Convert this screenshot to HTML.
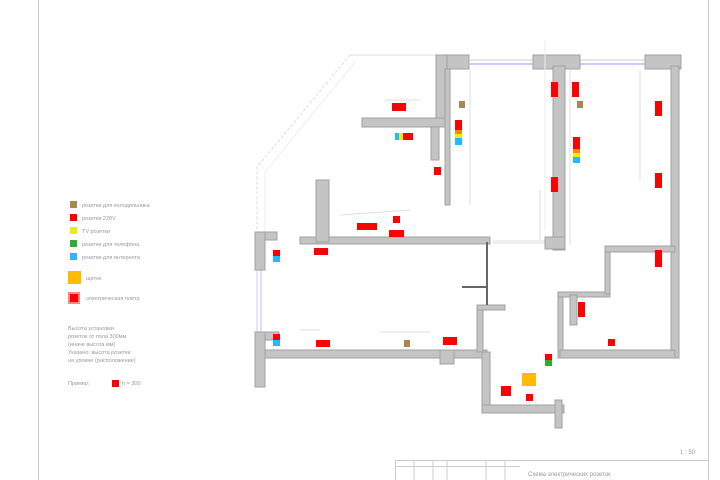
<!DOCTYPE html>
<html><head><meta charset="utf-8"><style>
body{margin:0;background:#fff}
svg{display:block}
text{font-family:"Liberation Sans","DejaVu Sans",sans-serif;fill:#999}
</style></head><body>
<svg width="720" height="480" viewBox="0 0 720 480">
<line x1="38.5" y1="0" x2="38.5" y2="480" stroke="#ccc"/>
<line x1="708.5" y1="0" x2="708.5" y2="480" stroke="#ccc"/>
<g stroke="#ccc" fill="none">
<rect x="395.5" y="460.5" width="313" height="20"/>
<line x1="395" y1="466.5" x2="520" y2="466.5"/>
<line x1="414" y1="460" x2="414" y2="480"/><line x1="433" y1="460" x2="433" y2="480"/>
<line x1="447" y1="460" x2="447" y2="480"/><line x1="486" y1="460" x2="486" y2="480"/>
<line x1="505" y1="460" x2="505" y2="480"/>
</g>
<text x="528" y="476" font-size="6">Схема электрических розеток</text>
<text x="680" y="454" font-size="6">1 : 50</text>

<polyline points="350,55 436,55" stroke="#ddd" fill="none"/>
<polyline points="350,55 257,167 257,232" stroke="#ddd" fill="none" stroke-dasharray="3,2"/>
<polyline points="355,62 265,172 265,232" stroke="#eee" fill="none"/>
<g stroke="#ccd" stroke-width="1">
<line x1="470" y1="60" x2="533" y2="60"/><line x1="470" y1="64" x2="533" y2="64" stroke="#99f"/>
<line x1="580" y1="60" x2="645" y2="60"/><line x1="580" y1="64" x2="645" y2="64" stroke="#99f"/>
<line x1="257" y1="270" x2="257" y2="332"/><line x1="261" y1="270" x2="261" y2="332" stroke="#bbf"/>
<line x1="493" y1="242" x2="545" y2="242" stroke="#eee" stroke-width="4"/>
</g>
<g fill="#c4c4c4" stroke="#a0a0a0" stroke-width="1">
<rect x="436" y="55" width="33" height="14"/>
<rect x="436" y="55" width="11" height="72"/>
<rect x="362" y="118" width="85" height="9"/>
<rect x="431" y="127" width="8" height="33"/>
<rect x="445" y="69" width="5" height="136"/>
<rect x="533" y="55" width="47" height="14"/>
<rect x="553" y="66" width="12" height="184"/>
<rect x="645" y="55" width="36" height="14"/>
<rect x="671" y="66" width="8" height="292"/>
<rect x="300" y="237" width="190" height="7"/>
<rect x="316" y="180" width="13" height="62"/>
<rect x="545" y="237" width="20" height="12"/>
<rect x="255" y="232" width="22" height="8"/>
<rect x="255" y="232" width="10" height="38"/>
<rect x="255" y="332" width="24" height="8"/>
<rect x="255" y="332" width="10" height="55"/>
<rect x="265" y="350" width="222" height="8"/>
<rect x="440" y="350" width="14" height="14"/>
<rect x="482" y="352" width="8" height="60"/>
<rect x="482" y="405" width="82" height="8"/>
<rect x="555" y="400" width="7" height="28"/>
<rect x="477" y="305" width="6" height="47"/>
<rect x="477" y="305" width="28" height="5"/>
<rect x="558" y="292" width="5" height="66"/>
<rect x="558" y="292" width="52" height="5"/>
<rect x="605" y="248" width="5" height="46"/>
<rect x="605" y="246" width="70" height="6"/>
<rect x="560" y="350" width="115" height="8"/>
<rect x="570" y="295" width="7" height="30"/>
</g>
<line x1="487" y1="242" x2="487" y2="305" stroke="#666" stroke-width="2"/>
<line x1="462" y1="287" x2="487" y2="287" stroke="#666" stroke-width="2"/>
<line x1="545" y1="230" x2="545" y2="40" stroke="#eee"/>
<g stroke="#ddd" fill="none">
<line x1="470" y1="70" x2="470" y2="205"/><line x1="385" y1="100" x2="420" y2="100"/>
<line x1="540" y1="190" x2="540" y2="240"/><line x1="640" y1="70" x2="640" y2="180"/>
<line x1="570" y1="70" x2="570" y2="245"/><line x1="300" y1="330" x2="320" y2="330"/>
<line x1="380" y1="332" x2="430" y2="332"/><line x1="340" y1="215" x2="410" y2="210"/>
</g>
<g fill="#f00">
<rect x="392" y="103" width="14" height="8"/>
<rect x="403" y="133" width="10" height="7"/>
<rect x="455" y="120" width="7" height="10"/>
<rect x="434" y="167" width="7" height="8"/>
<rect x="393" y="216" width="7" height="7"/>
<rect x="357" y="223" width="20" height="7"/>
<rect x="389" y="230" width="15" height="7"/>
<rect x="314" y="248" width="14" height="7"/>
<rect x="273" y="250" width="7" height="6"/>
<rect x="316" y="340" width="14" height="7"/>
<rect x="273" y="334" width="7" height="6"/>
<rect x="443" y="337" width="14" height="8"/>
<rect x="551" y="82" width="7" height="15"/>
<rect x="572" y="82" width="7" height="15"/>
<rect x="573" y="137" width="7" height="12"/>
<rect x="551" y="177" width="7" height="15"/>
<rect x="655" y="101" width="7" height="15"/>
<rect x="655" y="173" width="7" height="15"/>
<rect x="655" y="250" width="7" height="17"/>
<rect x="578" y="302" width="7" height="15"/>
<rect x="608" y="339" width="7" height="7"/>
<rect x="545" y="354" width="7" height="6"/>
<rect x="501" y="386" width="10" height="10"/>
<rect x="526" y="394" width="7" height="7"/>
</g>
<rect x="395" y="133" width="4" height="7" fill="#2bf"/>
<rect x="399" y="133" width="4" height="7" fill="#ee0"/>
<rect x="455" y="130" width="7" height="4" fill="#f80"/>
<rect x="455" y="134" width="7" height="4" fill="#ee0"/>
<rect x="455" y="138" width="7" height="7" fill="#2bf"/>
<rect x="573" y="149" width="7" height="4" fill="#f80"/>
<rect x="573" y="153" width="7" height="4" fill="#ee0"/>
<rect x="573" y="157" width="7" height="6" fill="#2bf"/>
<rect x="273" y="256" width="7" height="6" fill="#2bf"/>
<rect x="273" y="340" width="7" height="6" fill="#2bf"/>
<rect x="545" y="360" width="7" height="6" fill="#3a3"/>
<rect x="522" y="373" width="14" height="13" fill="#fb0"/>
<g fill="#a98850"><rect x="459" y="101" width="6" height="7"/><rect x="577" y="101" width="6" height="7"/><rect x="404" y="340" width="6" height="7"/></g>

<g font-size="5.5">
<rect x="70" y="201" width="7" height="7" fill="#a98850"/><text x="82" y="207">розетки для холодильника</text>
<rect x="70" y="214" width="7" height="7" fill="#f00"/><text x="82" y="220">розетки 220V</text>
<rect x="70" y="227" width="7" height="7" fill="#ee0"/><text x="82" y="233">TV розетки</text>
<rect x="70" y="240" width="7" height="7" fill="#3a3"/><text x="82" y="246">розетки для телефона</text>
<rect x="70" y="253" width="7" height="7" fill="#2bf"/><text x="82" y="259">розетки для интернета</text>
<rect x="68" y="271" width="13" height="13" fill="#fb0"/><text x="86" y="280">щиток</text>
<rect x="68" y="292" width="12" height="12" fill="#f88"/><rect x="70" y="294" width="8" height="8" fill="#f00"/><text x="86" y="300">электрическая плита</text>
<text x="68" y="330">Высота установки</text>
<text x="68" y="338">розеток от пола 300мм</text>
<text x="68" y="346">(иначе высота   мм)</text>
<text x="68" y="354">Указано: высота розетки</text>
<text x="68" y="362">на уровне (расположение)</text>
<text x="68" y="385">Пример:</text>
<rect x="112" y="380" width="7" height="7" fill="#f00"/><text x="122" y="385">h = 300</text>
</g>
</svg>
</body></html>
